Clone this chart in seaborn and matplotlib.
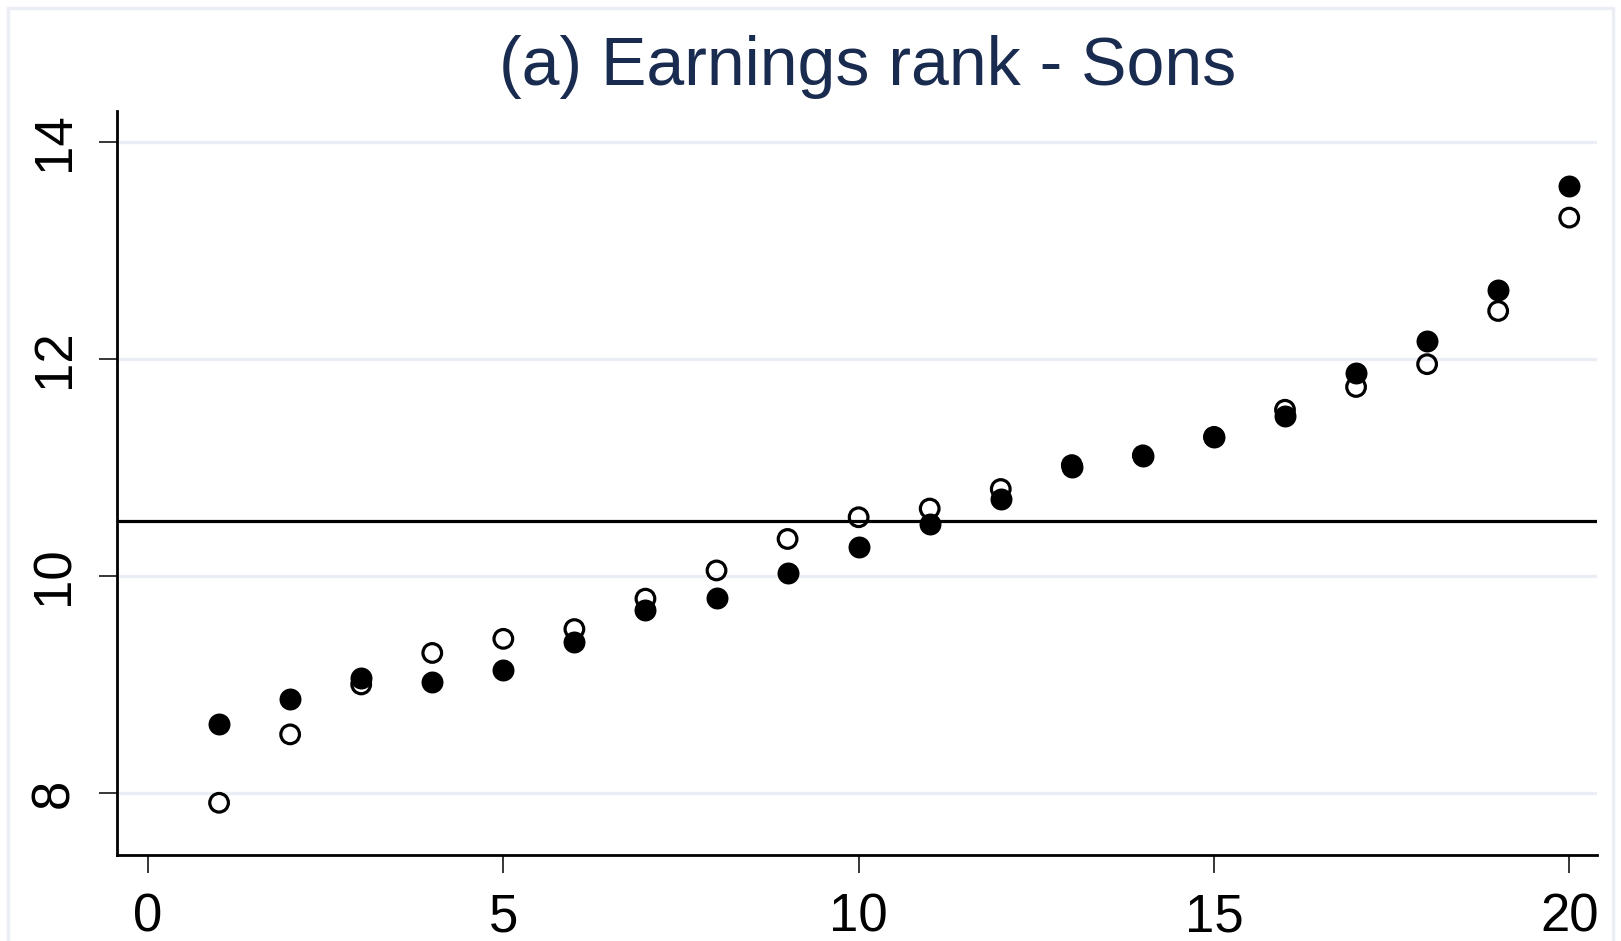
import pandas as pd
import matplotlib
matplotlib.use('Agg')
import matplotlib.pyplot as plt
import seaborn as sns
from matplotlib.patches import Rectangle

# Datos
rank = list(range(1, 21))
filled_vals = [8.64, 8.87, 9.06, 9.02, 9.13, 9.39, 9.69, 9.80, 10.03, 10.27,
               10.48, 10.71, 11.00, 11.10, 11.28, 11.47, 11.87, 12.16, 12.63, 13.59]
hollow_vals = [7.91, 8.54, 9.00, 9.29, 9.42, 9.51, 9.79, 10.05, 10.34, 10.54,
               10.62, 10.80, 11.02, 11.11, 11.28, 11.53, 11.74, 11.95, 12.44, 13.30]
ref_line = 10.51
x_ticks = [0, 5, 10, 15, 20]
y_ticks = [8, 10, 12, 14]
title = "(a) Earnings rank - Sons"

sns.set_style("white")
plt.rcParams['font.family'] = ['Liberation Sans', 'DejaVu Sans']

df = pd.DataFrame({'rank': rank, 'filled': filled_vals, 'hollow': hollow_vals})

fig = plt.figure(figsize=(16.21, 9.41), dpi=100)
fig.patch.set_facecolor('white')
fig.patches.append(Rectangle((8 / 1621, -0.05), 1 - 16 / 1621, 1.05 - 8 / 941,
                             transform=fig.transFigure, fill=False,
                             edgecolor='#EBEEF5', linewidth=2.5, zorder=0))

ax = fig.add_axes([0.0722, 0.0914, 0.9131, 0.7911])

# Lineas de la rejilla
for yt in y_ticks:
    ax.axhline(yt, color='#EBEEF5', linewidth=2.4, zorder=0)

ax.axhline(ref_line, color='black', linewidth=2.3, zorder=1)

sns.scatterplot(data=df, x='rank', y='filled', ax=ax, color='black',
                s=250, linewidth=0, zorder=3)
sns.scatterplot(data=df, x='rank', y='hollow', ax=ax, facecolor='none',
                edgecolor='black', s=180, linewidth=2.3, zorder=3)

ax.set_xlim(-0.436, 20.393)
ax.set_ylim(7.429, 14.286)
ax.set_xticks(x_ticks)
ax.set_yticks(y_ticks)
ax.set_xlabel('')
ax.set_ylabel('')

for side in ['top', 'right']:
    ax.spines[side].set_visible(False)
for side in ['left', 'bottom']:
    ax.spines[side].set_color('black')
    ax.spines[side].set_linewidth(2.0)

ax.tick_params(axis='both', direction='out', length=13, width=1.1,
               color='black', labelsize=38, labelcolor='black', pad=14,
               left=True, bottom=True)
plt.setp(ax.get_yticklabels(), rotation=90, va='center')

fig.text(0.5355, 1 - 85 / 941, title, ha='center', va='baseline',
         fontsize=49, color='#1A2B50')

plt.savefig('out.png', dpi=100)
plt.close()
